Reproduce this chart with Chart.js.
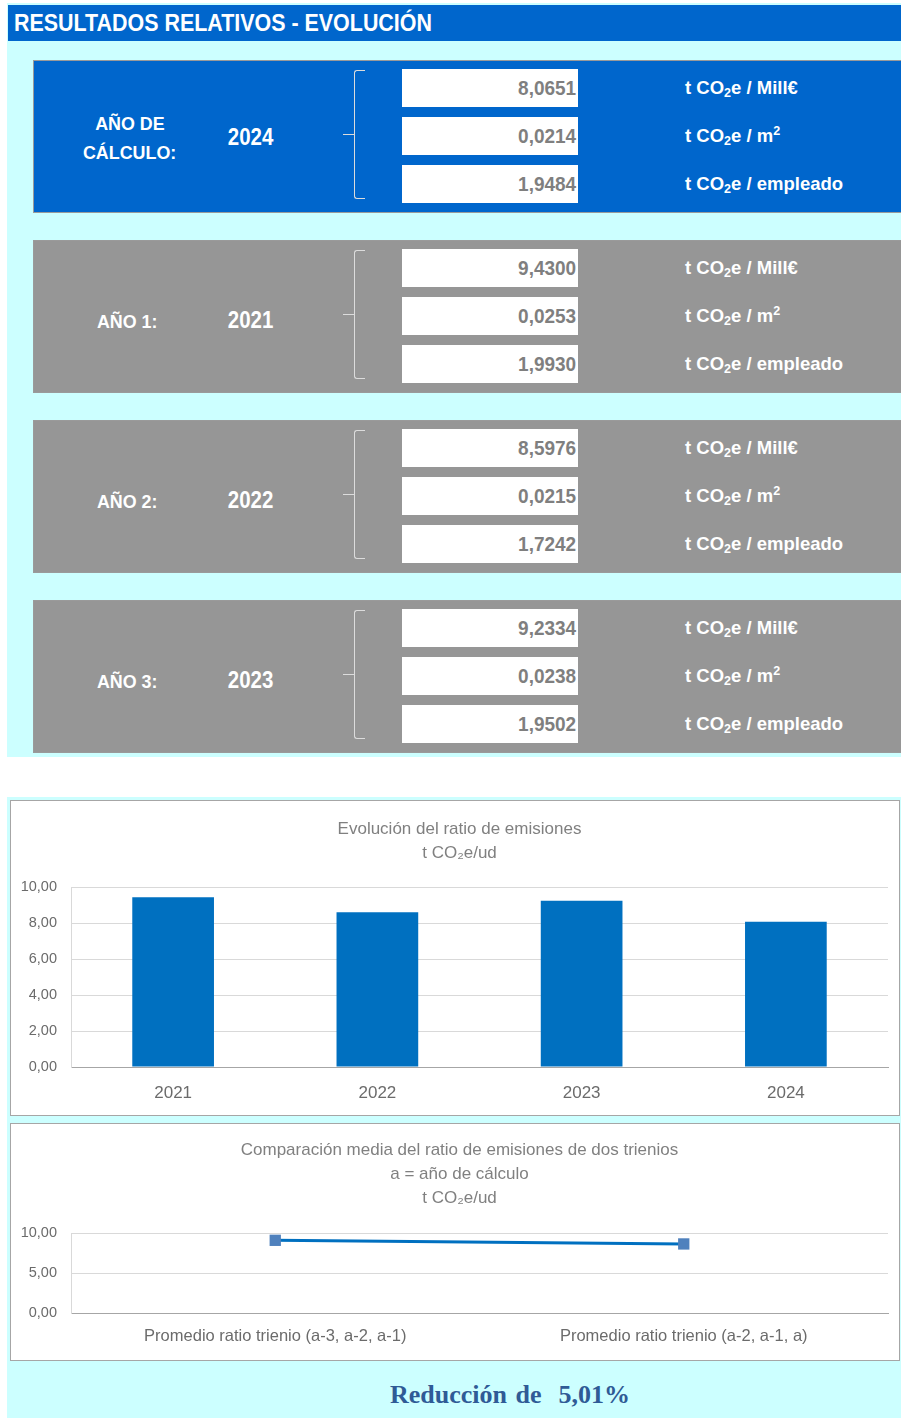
<!DOCTYPE html>
<html lang="es">
<head>
<meta charset="utf-8">
<title>Resultados relativos - Evolución</title>
<script src="https://cdn.jsdelivr.net/npm/chart.js@4.4.1/dist/chart.umd.min.js"></script>
<style>
  html, body { margin:0; padding:0; background:#ffffff; }
  body { width:901px; height:1418px; position:relative; overflow:hidden;
         font-family:"Liberation Sans",Arial,sans-serif; }
  .abs { position:absolute; }
  .sx { display:inline-block; white-space:nowrap; }
  #topbg { left:7px; top:3px; width:894px; height:754px; background:#CCFFFF; }
  #header { left:8px; top:5px; width:893px; height:36px; background:#0066CC; color:#fff;
            font-weight:bold; font-size:24px; line-height:36px; padding-left:6px; box-sizing:border-box; white-space:nowrap; }
  #header .sx { transform:scaleX(0.893); transform-origin:left center; }
  .panel { left:33px; width:868px; height:153px; box-sizing:border-box; border:1px solid #9a9a9a; border-right:none; }
  .panel .lbl { position:absolute; left:0; width:192px; text-align:center; color:#fff; font-weight:bold; font-size:19px; line-height:29px; }
  .panel .lbl .sx { transform:scaleX(0.94); transform-origin:center; }
  .panel .yr { position:absolute; left:177px; width:80px; text-align:center; color:#fff; font-weight:bold; font-size:23px; line-height:30px; }
  .panel .yr .sx { transform:scaleX(0.89); transform-origin:center; }
  .panel .vbox { position:absolute; left:368px; width:176px; height:38px; background:#fff; box-sizing:border-box;
                 text-align:right; color:#7f7f7f; font-weight:bold; font-size:20px; line-height:38px; padding-right:2px; }
  .panel .vbox .sx { transform:scaleX(0.95); transform-origin:right center; }
  .panel .unit { position:absolute; left:651px; color:#fff; font-weight:bold; font-size:18.5px; line-height:38px; white-space:nowrap; }
  .panel .unit sub { font-size:12.5px; vertical-align:-3px; line-height:0; }
  .panel .unit sup { font-size:12.5px; vertical-align:7px; line-height:0; }
  .br { position:absolute; border:1.5px solid #dcdcdc; border-right:none; border-radius:3px 0 0 3px; }
  .brt { position:absolute; height:0; border-top:1.5px solid #dcdcdc; }
  #botbg { left:7px; top:797px; width:894px; height:621px; background:#CCFFFF; }
  .cbox { left:10px; width:890px; background:#fff; border:1px solid #a6a6a6; box-sizing:border-box; }
  .cbox canvas { display:block; }
  #red { left:300px; width:420px; top:1378px; text-align:center; color:#2F5B96; font-weight:bold;
         font-family:"Liberation Serif","DejaVu Serif",serif; font-size:26px; line-height:34px; word-spacing:2px; white-space:pre; }
</style>
</head>
<body>
<div id="topbg" class="abs"></div>
<div id="header" class="abs"><span class="sx">RESULTADOS RELATIVOS - EVOLUCIÓN</span></div>
<div id="panels"></div>
<div id="botbg" class="abs"></div>
<div class="abs cbox" style="top:800px;height:316px;"><canvas id="c1" width="888" height="314"></canvas></div>
<div class="abs cbox" style="top:1123px;height:238px;"><canvas id="c2" width="888" height="236"></canvas></div>
<div id="red" class="abs"></div>

<script>
// ---------- DATA ----------
const years = ['2021', '2022', '2023', '2024'];
const ratioMillEur = [9.4300, 8.5976, 9.2334, 8.0651];   // t CO2e / Mill€
const ratioM2      = [0.0253, 0.0215, 0.0238, 0.0214];   // t CO2e / m2
const ratioEmpl    = [1.9930, 1.7242, 1.9502, 1.9484];   // t CO2e / empleado
const panelLabels  = [['AÑO DE', 'CÁLCULO:'], ['AÑO 1:'], ['AÑO 2:'], ['AÑO 3:']];
const panelYearIdx = [3, 0, 1, 2];
const unitLabels   = ['t CO<sub>2</sub>e / Mill€', 't CO<sub>2</sub>e / m<sup>2</sup>', 't CO<sub>2</sub>e / empleado'];
const chart1Title  = ['Evolución del ratio de emisiones', 't CO₂e/ud'];
const chart1Ticks  = [0, 2, 4, 6, 8, 10];
const trienioLabels = ['Promedio ratio trienio (a-3, a-2, a-1)', 'Promedio ratio trienio (a-2, a-1, a)'];
const trienioValues = [9.087, 8.632];
const chart2Title  = ['Comparación media del ratio de emisiones de dos trienios', 'a = año de cálculo', 't CO₂e/ud'];
const chart2Ticks  = [0, 5, 10];
const reduction    = '5,01%';

// ---------- TOP PANELS ----------
const fmt4 = v => v.toFixed(4).replace('.', ',');
const panelTops = [60, 240, 420, 600];
const panelColors = ['#0066CC', '#969696', '#969696', '#969696'];
const host = document.getElementById('panels');
panelLabels.forEach((lines, p) => {
  const i = panelYearIdx[p];
  const vals = [ratioMillEur[i], ratioM2[i], ratioEmpl[i]];
  const d = document.createElement('div');
  d.className = 'abs panel';
  d.style.top = panelTops[p] + 'px';
  d.style.background = panelColors[p];
  const lblTop = lines.length > 1 ? 47.5 : 65.5;
  let html = `<div class="lbl" style="top:${lblTop}px;left:${lines.length > 1 ? 0 : -3}px">${lines.map(t => `<span class="sx">${t}</span>`).join('<br>')}</div>`;
  html += `<div class="yr" style="top:${p === 0 ? 61 : 64}px"><span class="sx">${years[i]}</span></div>`;
  html += `<div class="br" style="left:320px;top:9px;width:10px;height:127px"></div>`;
  html += `<div class="brt" style="left:309px;top:73px;width:12px"></div>`;
  const boxTops = [8, 56, 104];
  vals.forEach((v, k) => {
    html += `<div class="vbox" style="top:${boxTops[k]}px"><span class="sx">${fmt4(v)}</span></div>`;
    html += `<div class="unit" style="top:${boxTops[k]}px"><span class="sx">${unitLabels[k]}</span></div>`;
  });
  d.innerHTML = html;
  host.appendChild(d);
});
document.getElementById('red').textContent = 'Reducción de  ' + reduction;

// ---------- CHARTS ----------
const FONT = '"Liberation Sans",Arial,sans-serif';
const fmt2 = v => Number(v).toFixed(2).replace('.', ',');
const TXT = '#6b6b6b';

// nudge the title block so it is centred like the original (slightly right of canvas centre)
const titleNudge = {
  id: 'titleNudge',
  afterLayout(chart) {
    const t = chart.titleBlock;
    if (t) { t.left += 10; t.right += 10; }
  }
};

new Chart(document.getElementById('c1'), {
  type: 'bar',
  data: { labels: years, datasets: [{ data: ratioMillEur, backgroundColor: '#0070C0', barPercentage: 0.5, categoryPercentage: 0.8 }] },
  plugins: [titleNudge],
  options: {
    responsive: false, animation: false, devicePixelRatio: 1,
    layout: { padding: { left: 0, right: 11, top: 0, bottom: 0 } },
    plugins: {
      legend: { display: false }, tooltip: { enabled: false },
      title: { display: true, text: chart1Title, color: '#808080',
               font: { family: FONT, size: 17, weight: 'normal', lineHeight: 24 / 17 }, padding: { top: 16, bottom: 22 } }
    },
    scales: {
      x: { grid: { display: false, drawTicks: false }, border: { color: '#A6A6A6', width: 1 },
           afterFit: s => { s.height = 48; },
           ticks: { color: TXT, font: { family: FONT, size: 17 }, padding: 16, maxRotation: 0 } },
      y: { min: 0, max: 10,
           afterBuildTicks: s => { s.ticks = chart1Ticks.map(v => ({ value: v })); },
           afterFit: s => { s.width = 60; },
           grid: { color: '#D9D9D9', drawTicks: false },
           border: { display: true, color: '#D9D9D9' },
           ticks: { color: TXT, font: { family: FONT, size: 14.5 }, padding: 14, callback: v => fmt2(v) } }
    }
  }
});

new Chart(document.getElementById('c2'), {
  type: 'line',
  data: { labels: trienioLabels, datasets: [{ data: trienioValues, borderColor: '#0070C0', borderWidth: 3,
          pointStyle: 'rect', pointRadius: 8, pointBackgroundColor: '#4F81BD', pointBorderColor: '#4F81BD', pointBorderWidth: 0 }] },
  plugins: [titleNudge],
  options: {
    responsive: false, animation: false, devicePixelRatio: 1,
    layout: { padding: { left: 0, right: 11, top: 0, bottom: 0 } },
    plugins: {
      legend: { display: false }, tooltip: { enabled: false },
      title: { display: true, text: chart2Title, color: '#808080',
               font: { family: FONT, size: 17, weight: 'normal', lineHeight: 24 / 17 }, padding: { top: 14, bottom: 23 } }
    },
    scales: {
      x: { offset: true, grid: { display: false, drawTicks: false }, border: { color: '#A6A6A6', width: 1 },
           afterFit: s => { s.height = 47; },
           ticks: { color: TXT, font: { family: FONT, size: 16.5 }, padding: 14, maxRotation: 0 } },
      y: { min: 0, max: 10,
           afterBuildTicks: s => { s.ticks = chart2Ticks.map(v => ({ value: v })); },
           afterFit: s => { s.width = 60; },
           grid: { color: '#D9D9D9', drawTicks: false },
           border: { display: true, color: '#D9D9D9' },
           ticks: { color: TXT, font: { family: FONT, size: 14.5 }, padding: 14, callback: v => fmt2(v) } }
    }
  }
});
</script>
</body>
</html>
